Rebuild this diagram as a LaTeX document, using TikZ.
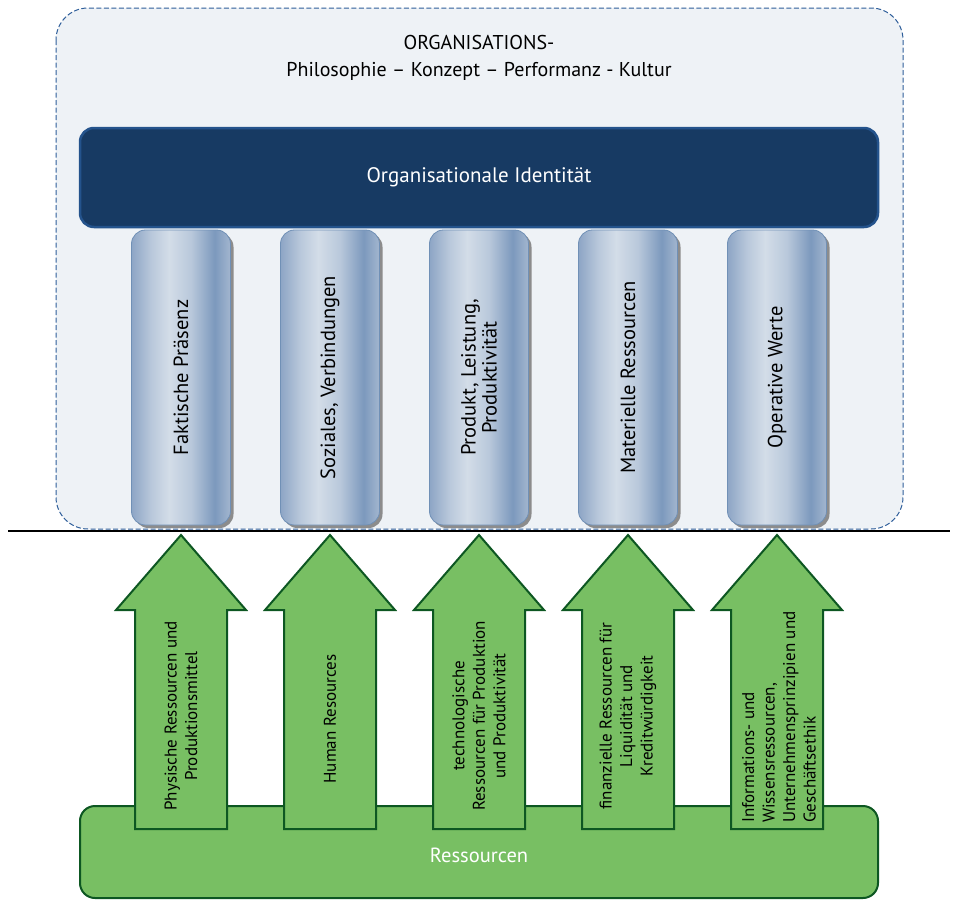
\documentclass[tikz,border=0pt]{standalone}
\usepackage{fontspec}
\setmainfont{PT Sans}
\usetikzlibrary{shadows}
\definecolor{outerfill}{HTML}{EEF2F6}
\definecolor{outerdraw}{HTML}{2E5E9A}
\definecolor{navy}{HTML}{173A63}
\definecolor{navyborder}{HTML}{24538C}
\definecolor{pA}{HTML}{8DA5C5}
\definecolor{pB}{HTML}{B9C8DB}
\definecolor{pC}{HTML}{D3DDE8}
\definecolor{pD}{HTML}{7C99BD}
\definecolor{pE}{HTML}{A3B6CF}
\definecolor{pborder}{HTML}{7090B6}
\definecolor{grfill}{HTML}{78BF63}
\definecolor{grdraw}{HTML}{0D5722}
\pgfdeclarehorizontalshading{pillarshade}{100bp}{color(0bp)=(pA); color(25bp)=(pA); color(35bp)=(pB); color(44bp)=(pC); color(55bp)=(pB); color(67bp)=(pD); color(75bp)=(pE); color(100bp)=(pE)}
\tikzset{
  outerbox/.style={draw=outerdraw, line width=1pt, dash pattern=on 5pt off 2.5pt, fill=outerfill, rounded corners=32pt},
  navybox/.style={draw=navyborder, line width=2.5pt, fill=navy, rounded corners=14pt, minimum width=798pt, minimum height=99pt, text=white, font=\fontsize{21}{25}\selectfont},
  pillar/.style={draw=pborder, line width=0.8pt, shading=pillarshade, rounded corners=14pt, minimum width=99pt, minimum height=295pt, inner sep=0pt,
    drop shadow={shadow xshift=3pt, shadow yshift=-3pt, fill=black!45, opacity=1}},
  pillartext/.style={rotate=90, align=center, font=\fontsize{20.5}{21}\selectfont, text=black, inner sep=0pt},
  grarrow/.style={draw=grdraw, line width=2pt, fill=grfill, line join=miter},
  arrowtext/.style={rotate=90, font=\fontsize{17}{20.5}\selectfont, text=black, inner sep=0pt},
  basebox/.style={draw=grdraw, line width=2pt, fill=grfill, rounded corners=15pt},
  titletext/.style={align=center, font=\fontsize{20}{27}\selectfont, text=black}
}
\begin{document}
\begin{tikzpicture}[x=1pt,y=1pt]
\useasboundingbox (0,0) rectangle (954,-900);
% outer dashed box
\draw[outerbox] (56,-8) rectangle (903,-529);
\node[titletext] (title) at (479,-58) {ORGANISATIONS-\\Philosophie – Konzept – Performanz - Kultur};
% pillars
\foreach \i/\c/\t in {1/181/{Faktische Präsenz},2/330/{Soziales, Verbindungen},3/479/{Produkt, Leistung,\\Produktivität},4/628/{Materielle Ressourcen},5/777/{Operative Werte}}{
  \node[pillar] (p\i) at (\c,-377.5) {};
  \node[pillartext] (pt\i) at (p\i.center) {\t};
}
% navy identity box
\node[navybox] (ident) at (479,-177.5) {Organisationale Identität};
% horizontal line
\coordinate (hl) at (8,-531);
\coordinate (hr) at (950,-531);
\draw[line width=1.5pt] (hl) -- (hr);
% base box
\draw[basebox] (80,-806) rectangle (878,-898);
\node[text=white, font=\fontsize{20.5}{24}\selectfont] (res) at (479,-855) {Ressourcen};
% arrows
\foreach \i/\c in {1/181,2/330,3/479,4/628,5/777}{
  \draw[grarrow] (\c,-535) -- (\c+65,-610) -- (\c+46,-610) -- (\c+46,-829) -- (\c-46,-829) -- (\c-46,-610) -- (\c-65,-610) -- cycle;
}
\node[arrowtext, align=center] (a1) at (181,-716) {Physische Ressourcen und\\Produktionsmittel};
\node[arrowtext, align=center] (a2) at (330,-719) {Human Resources};
\node[arrowtext, align=center] (a3) at (479,-716) {technologische\\Ressourcen für Produktion\\und Produktivität};
\node[arrowtext, align=center] (a4) at (628,-716) {finanzielle Ressourcen für\\Liquidität und\\Kreditwürdigkeit};
\node[arrowtext, align=left, anchor=west] (a5) at (779,-823) {Informations- und\\Wissensressourcen,\\Unternehmensprinzipien und\\Geschäftsethik};
\end{tikzpicture}
\end{document}
